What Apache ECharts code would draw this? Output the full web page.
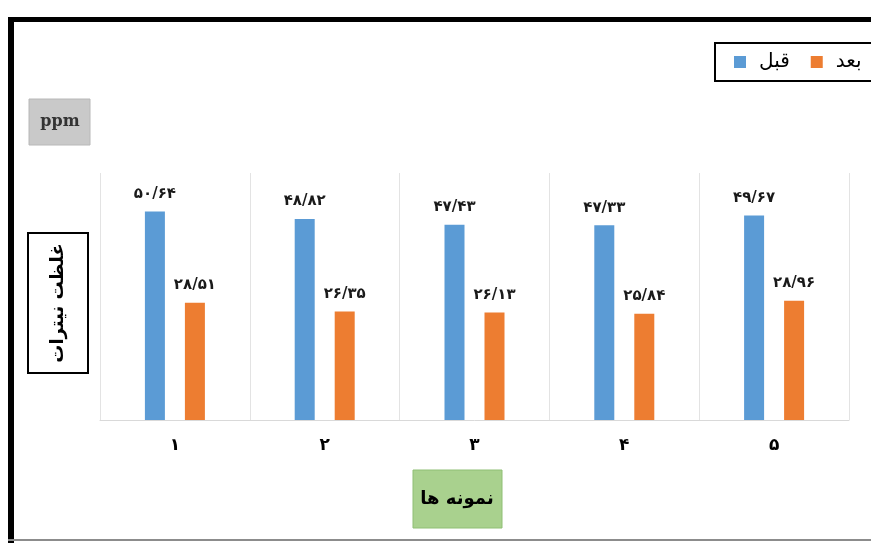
<!DOCTYPE html>
<html>
<head>
<meta charset="utf-8">
<script src="https://cdn.jsdelivr.net/npm/echarts@6/dist/echarts.min.js"></script>
<style>
  html, body { margin: 0; padding: 0; background: #ffffff; }
  #chart { width: 871px; height: 543px; }
</style>
</head>
<body>
<div id="chart"></div>
<script>
// Nitrate concentration per sample, before and after treatment (ppm)
const categories = ['۱', '۲', '۳', '۴', '۵'];
const seriesNames = ['قبل', 'بعد'];
const beforeValues = [50.64, 48.82, 47.43, 47.33, 49.67];
const afterValues = [28.51, 26.35, 26.13, 25.84, 28.96];
const yAxisTitle = 'غلظت نیترات';
const xAxisTitle = 'نمونه ها';
const unitText = 'ppm';

const FONT = '"DejaVu Sans", "Noto Sans", sans-serif';
const persianDigits = '۰۱۲۳۴۵۶۷۸۹';
function toPersian(v) {
  return v.toFixed(2).replace(/\d/g, d => persianDigits[+d]).replace('.', '/');
}

const chart = echarts.init(document.getElementById('chart'), null, { renderer: 'canvas' });

const valueLabel = {
  show: true,
  position: 'top',
  distance: 10,
  formatter: p => toPersian(p.value),
  fontFamily: FONT,
  fontWeight: 'bold',
  fontSize: 15,
  color: '#1a1a1a'
};

chart.setOption({
  animation: false,
  backgroundColor: '#ffffff',
  grid: { left: 100, right: 22, top: 173, bottom: 123, containLabel: false },
  legend: {
    left: 715,
    top: 43,
    width: 300,
    orient: 'horizontal',
    data: seriesNames,
    icon: 'rect',
    itemWidth: 12,
    itemHeight: 12,
    itemGap: 21,
    padding: [9, 16, 9, 19],
    borderColor: '#000000',
    borderWidth: 2,
    backgroundColor: '#ffffff',
    textStyle: { fontFamily: FONT, fontSize: 20, color: '#000000', padding: [0, 0, 0, 8] }
  },
  xAxis: {
    type: 'category',
    data: categories,
    axisLine: { show: true, lineStyle: { color: '#d9d9d9', width: 1 } },
    axisTick: { show: false },
    splitLine: { show: true, interval: 0, lineStyle: { color: '#e3e3e3', width: 1 } },
    axisLabel: { fontFamily: FONT, fontWeight: 'bold', fontSize: 17, color: '#000000', margin: 17 }
  },
  yAxis: {
    type: 'value',
    min: 0,
    max: 60,
    axisLine: { show: false },
    axisTick: { show: false },
    axisLabel: { show: false },
    splitLine: { show: false }
  },
  series: [
    {
      name: seriesNames[0],
      type: 'bar',
      data: beforeValues,
      barWidth: 20,
      barGap: '100%',
      itemStyle: { color: '#5b9bd5' },
      label: valueLabel
    },
    {
      name: seriesNames[1],
      type: 'bar',
      data: afterValues,
      barWidth: 20,
      itemStyle: { color: '#ed7d31' },
      label: valueLabel
    }
  ],
  graphic: [
    // outer frame: heavy top and left rule, light bottom rule
    { type: 'rect', shape: { x: 8, y: 17, width: 871, height: 5 }, style: { fill: '#000000' }, silent: true },
    { type: 'rect', shape: { x: 8, y: 17, width: 6, height: 530 }, style: { fill: '#000000' }, silent: true },
    { type: 'rect', shape: { x: 8, y: 539, width: 871, height: 2 }, style: { fill: '#8c8c8c' }, silent: true },
    // unit badge
    {
      type: 'rect',
      shape: { x: 29, y: 99, width: 61, height: 46 },
      style: { fill: '#c9c9c9', stroke: '#b8b8b8', lineWidth: 1 },
      silent: true
    },
    {
      type: 'text',
      x: 60, y: 122,
      style: {
        text: unitText,
        font: 'bold 16px "DejaVu Serif", "Liberation Serif", serif',
        fill: '#333333',
        align: 'center',
        verticalAlign: 'middle'
      },
      silent: true
    },
    // vertical axis title
    {
      type: 'rect',
      shape: { x: 28, y: 233, width: 60, height: 140 },
      style: { fill: '#ffffff', stroke: '#000000', lineWidth: 2 },
      silent: true
    },
    {
      type: 'text',
      x: 58, y: 303,
      rotation: Math.PI / 2,
      style: {
        text: yAxisTitle,
        font: 'bold 18px ' + FONT,
        fill: '#000000',
        align: 'center',
        verticalAlign: 'middle'
      },
      silent: true
    },
    // horizontal axis title
    {
      type: 'rect',
      shape: { x: 413, y: 470, width: 89, height: 58 },
      style: { fill: '#a9d18e', stroke: '#8fbf75', lineWidth: 1 },
      silent: true
    },
    {
      type: 'text',
      x: 457, y: 499,
      style: {
        text: xAxisTitle,
        font: 'bold 18px ' + FONT,
        fill: '#000000',
        align: 'center',
        verticalAlign: 'middle'
      },
      silent: true
    }
  ]
});
</script>
</body>
</html>
